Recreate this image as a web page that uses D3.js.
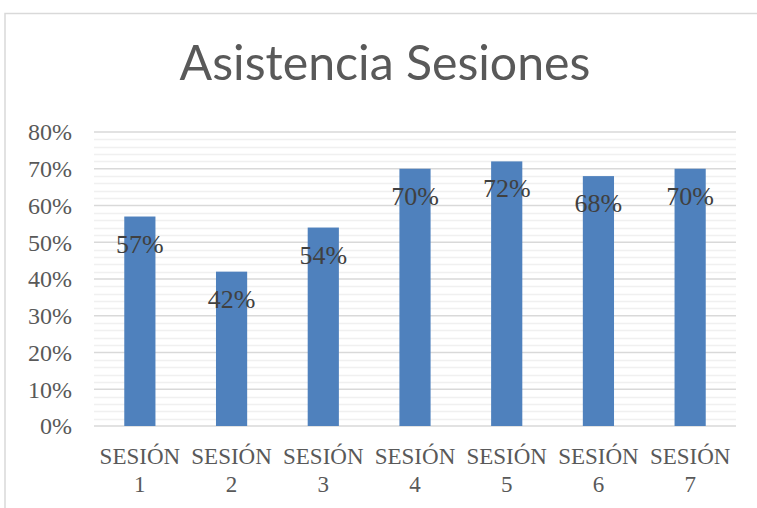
<!DOCTYPE html>
<html><head><meta charset="utf-8">
<script src="https://cdn.jsdelivr.net/npm/d3@7"></script>
<style>body{margin:0;background:#fff}svg{display:block}</style>
</head><body>
<script>
const categories = ["SESIÓN 1","SESIÓN 2","SESIÓN 3","SESIÓN 4","SESIÓN 5","SESIÓN 6","SESIÓN 7"];
const values = [0.57,0.42,0.54,0.70,0.72,0.68,0.70];
const yTicks = [0,0.1,0.2,0.3,0.4,0.5,0.6,0.7,0.8];
const title = "Asistencia Sesiones";

const W=757,H=508;
const svg=d3.select("body").append("svg").attr("width",W).attr("height",H);
svg.append("rect").attr("x",5).attr("y",13.5).attr("width",W+10).attr("height",H+10)
  .attr("fill","#fff").attr("stroke","#d9d9d9").attr("stroke-width",1.5);

const x=d3.scaleBand().domain(categories).range([94,736]).paddingInner(0.66).paddingOuter(0.33);
const y=d3.scaleLinear().domain([0,0.8]).range([426,132]);

// minor gridlines
const minor=d3.range(0,81,2).map(d=>d/100).filter(d=>Math.round(d*100)%10!==0);
svg.append("g").selectAll("line").data(minor).join("line")
  .attr("x1",94).attr("x2",736).attr("y1",d=>Math.round(y(d))+0.5).attr("y2",d=>Math.round(y(d))+0.5)
  .attr("stroke","#f0f0f0").attr("stroke-width",1.5);
// major gridlines
svg.append("g").selectAll("line").data(yTicks).join("line")
  .attr("x1",94).attr("x2",736).attr("y1",d=>y(d)).attr("y2",d=>y(d))
  .attr("stroke","#d9d9d9").attr("stroke-width",1.5);

// y axis labels
const ya=svg.append("g").attr("transform","translate(72,0)")
  .call(d3.axisLeft(y).tickValues(yTicks).tickFormat(d3.format(".0%")).tickSize(0).tickPadding(0));
ya.select(".domain").remove();
ya.selectAll("text").attr("font-family","Liberation Serif").attr("font-size",24).attr("fill","#595959").attr("dy","0.33em");

// bars
svg.append("g").selectAll("rect").data(values).join("rect")
  .attr("x",(d,i)=>x(categories[i])).attr("width",x.bandwidth())
  .attr("y",d=>y(d)).attr("height",d=>y(0)-y(d))
  .attr("fill","#4f81bd");

// data labels
svg.append("g").selectAll("text").data(values).join("text")
  .attr("x",(d,i)=>x(categories[i])+x.bandwidth()/2).attr("y",d=>y(d)+36)
  .attr("text-anchor","middle").attr("font-family","Liberation Serif").attr("font-size",26)
  .attr("fill","#404040").text(d=>d3.format(".0%")(d));

// x labels
const xl=svg.append("g").selectAll("text").data(categories).join("text")
  .attr("text-anchor","middle").attr("font-family","Liberation Serif").attr("font-size",23)
  .attr("fill","#595959");
xl.each(function(d){
  const parts=d.split(" ");
  const cx=x(d)+x.bandwidth()/2;
  d3.select(this).selectAll("tspan").data(parts).join("tspan")
    .attr("x",cx).attr("y",(p,j)=>464+j*28).text(p=>p);
});

// title
const t=svg.append("text").attr("x",385).attr("y",80).attr("text-anchor","middle")
  .attr("font-family","Lato").attr("font-weight",400).attr("font-size",46).attr("fill","#595959").text(title);
const len=t.node().getComputedTextLength();
t.attr("font-size",46*411/len);
</script>
</body></html>
